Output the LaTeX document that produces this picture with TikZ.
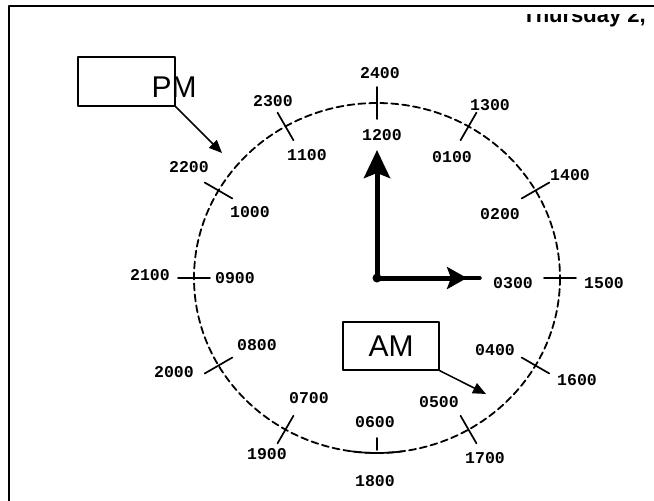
\documentclass[tikz,border=0pt]{standalone}
\usepackage{fontspec}
\usepackage{tikz,tkz-euclide}
\usetikzlibrary{arrows.meta}
\setmainfont{Liberation Sans}
\newfontfamily\dialfont{Liberation Mono}

\tikzset{
  dial/.style={line width=1.8pt, dash pattern=on 7pt off 4pt},
  tickline/.style={line width=1.7pt},
  hourlabel/.style={font=\dialfont\bfseries\fontsize{16.5}{16.5}\selectfont, inner sep=0pt},
  callout/.style={draw, line width=1.3pt, inner sep=0pt, minimum width=97pt, minimum height=49pt},
  calloutarrow/.style={line width=1.5pt, -{Triangle[length=13pt,width=11pt]}},
  hand/.style={line width=5pt, line cap=butt, -{Stealth[length=28pt,width=26pt,inset=5pt]}},
}

\begin{document}
\begin{tikzpicture}[x=1pt, y=-1pt, >=stealth, line join=round, line cap=round]
			\useasboundingbox (0,0) rectangle (654,501);
			% frame of the page, cut off on the right and below
			\draw[line width=2.5pt] (9,6) rectangle (700,560);
			% running head, only its lower part shows
			\begin{scope}
				\clip (500,14) rectangle (654,30);
				\node[anchor=base east, inner sep=0pt, font=\bfseries\fontsize{22}{22}\selectfont] (head) at (646,22) {Thursday 2,};
			\end{scope}
			\tkzDefPoints{377/278/O,377/150/N,480/278/E,467/278/H,222/153/P,486/394/Q}
			% the dial
			\draw[dial] (O) ellipse [x radius=183, y radius=175];
			\begin{scope}[shift={(O)}]
				\foreach \t in {-90,-60,-30,0,30,60,120,150,180,210,240}
					\draw[tickline] (\t:167 and 159) -- (\t:199 and 191);
				\draw[tickline] (90:160 and 160) -- (90:172 and 172);
				\draw[tickline] (98:183 and 175) arc [start angle=98, end angle=82, x radius=183, y radius=175];
			\end{scope}
			% hours, pm outside and am inside
			\foreach \n/\x/\y/\txt in {o12/380/73/2400, i12/382/135/1200,
				o1/490/105/1300, i1/452/157/0100, o2/570/175/1400, i2/500/214/0200,
				o3/604/283/1500, i3/513/283/0300, o4/577/380/1600, i4/495/350/0400,
				o5/485/458/1700, i5/439/402/0500, o6/375/481/1800, i6/375/422/0600,
				o7/267/454/1900, i7/309/398/0700, o8/174/372/2000, i8/257/345/0800,
				o9/150/275/2100, i9/235/278/0900, o10/189/167/2200, i10/250/212/1000,
				o11/273/101/2300, i11/307/155/1100}
				\node[hourlabel] (\n) at (\x,\y) {\txt};
			% hands
			\fill (O) circle (4.5pt);
			\draw[hand] (O) -- (N);
			\draw[line width=3.5pt] (O) -- (E);
			\draw[hand, -{Stealth[length=20pt,width=22pt,inset=4pt]}] (O) -- (H);
			% callouts
			\node[callout] (pmbox) at (126.5,81.5) {};
			\node[inner sep=0pt, font=\fontsize{30}{30}\selectfont] (pm) at (174,87) {PM};
			\draw[calloutarrow] (pmbox.south east) -- (P);
			\node[callout, minimum width=96pt, minimum height=48pt, font=\fontsize{30}{30}\selectfont] (am) at (391,346) {AM};
			\draw[calloutarrow] (am.south east) -- (Q);
		\end{tikzpicture}
\end{document}
